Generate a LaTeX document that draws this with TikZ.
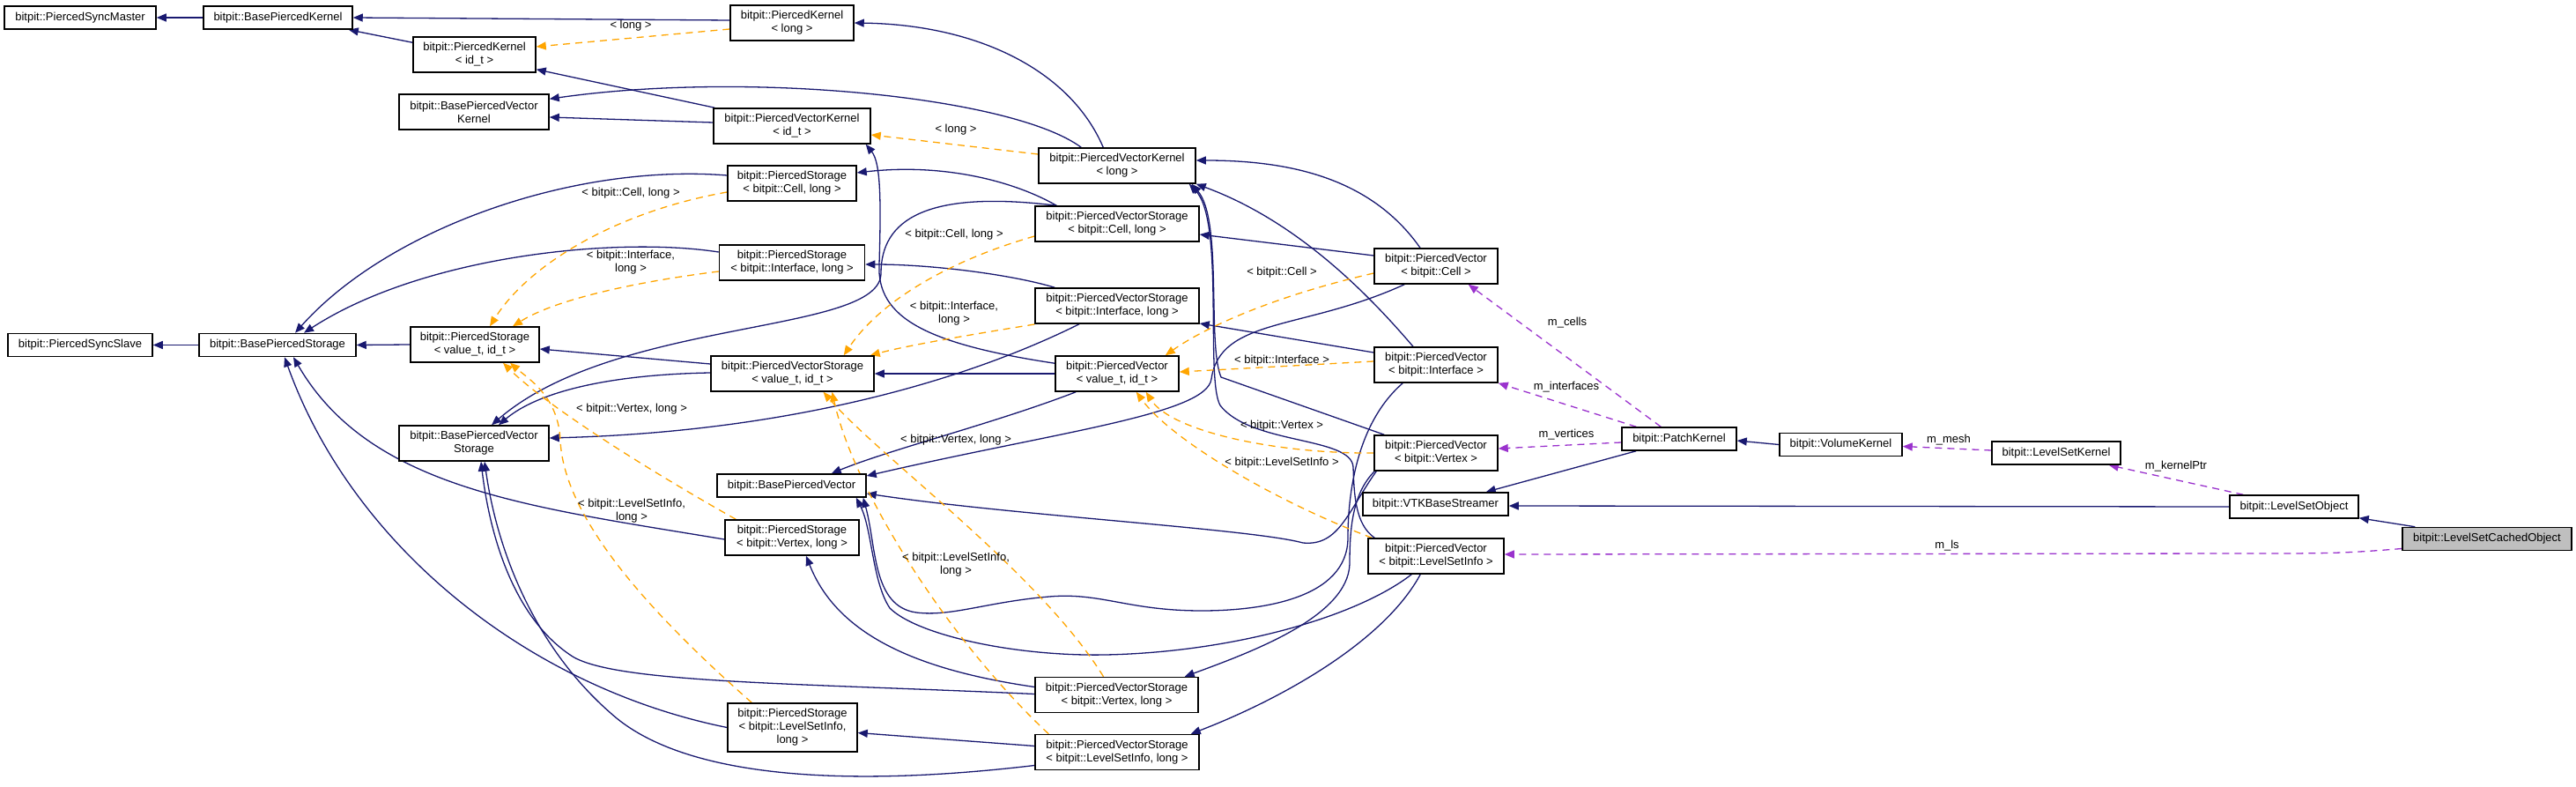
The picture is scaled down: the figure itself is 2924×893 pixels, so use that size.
\documentclass[tikz,border=0pt]{standalone}
\usepackage{fontspec}
\setmainfont{Liberation Sans}
\usetikzlibrary{arrows.meta,backgrounds,calc}
\definecolor{inhblue}{HTML}{191970}
\definecolor{tplorange}{HTML}{FFA500}
\definecolor{usepurple}{HTML}{9A32CD}
\definecolor{focusgray}{HTML}{BFBFBF}
\tikzset{
  cls/.style={draw=black, line width=0.75pt, fill=white, inner sep=1pt, align=center,
    minimum height=20pt, font=\fontsize{6.5}{7.5}\selectfont},
  lbl/.style={inner sep=0pt, align=center, font=\fontsize{6.5}{7.5}\selectfont},
  inh/.style={draw=inhblue, line width=0.65pt, -{Triangle[length=5.5pt,width=4.5pt]}},
  tpl/.style={draw=tplorange, line width=0.65pt, dash pattern=on 4pt off 3pt,
    -{Triangle[length=5.5pt,width=4.5pt]}},
  use/.style={draw=usepurple, line width=0.65pt, dash pattern=on 4pt off 3pt,
    -{Triangle[length=5.5pt,width=4.5pt]}}
}
\begin{document}
\begin{tikzpicture}[x=0.5pt, y=-0.5pt]
\useasboundingbox (0,0) rectangle (2924,893);
% kernels
\node[cls, minimum width=86pt, minimum height=13pt] (syncmaster) at (91,20) {bitpit::PiercedSyncMaster};
\node[cls, minimum width=84.5pt, minimum height=13pt] (bkernel) at (315.5,20) {bitpit::BasePiercedKernel};
\node[cls, minimum width=70pt] (pklong) at (899,26) {bitpit::PiercedKernel\\< long >};
\node[cls, minimum width=69.5pt] (pkid) at (538.5,62) {bitpit::PiercedKernel\\< id\_t >};
\node[cls, minimum width=85pt] (bvkernel) at (538,127) {bitpit::BasePiercedVector\\Kernel};
\node[cls, minimum width=89pt] (pvkid) at (899,143) {bitpit::PiercedVectorKernel\\< id\_t >};
\node[cls, minimum width=89pt] (pvklong) at (1268,188) {bitpit::PiercedVectorKernel\\< long >};
% storages
\node[cls, minimum width=82pt, minimum height=13pt] (syncslave) at (91,391.5) {bitpit::PiercedSyncSlave};
\node[cls, minimum width=89pt, minimum height=13pt] (bstorage) at (315,391.5) {bitpit::BasePiercedStorage};
\node[cls, minimum width=73pt] (psval) at (539,391) {bitpit::PiercedStorage\\< value\_t, id\_t >};
\node[cls, minimum width=85pt] (bpvs) at (538,503) {bitpit::BasePiercedVector\\Storage};
\node[cls, minimum width=73pt] (pscell) at (899,208) {bitpit::PiercedStorage\\< bitpit::Cell, long >};
\node[cls, minimum width=82.5pt] (psiface) at (899,298) {bitpit::PiercedStorage\\< bitpit::Interface, long >};
\node[cls, minimum width=92.5pt] (pvsval) at (899.5,424) {bitpit::PiercedVectorStorage\\< value\_t, id\_t >};
\node[cls, minimum width=84.5pt, minimum height=13pt] (bpv) at (898.5,551) {bitpit::BasePiercedVector};
\node[cls, minimum width=76pt] (psvertex) at (899,610) {bitpit::PiercedStorage\\< bitpit::Vertex, long >};
\node[cls, minimum width=73.5pt, minimum height=27.5pt] (pslsi) at (899.5,825.5) {bitpit::PiercedStorage\\< bitpit::LevelSetInfo,\\long >};
\node[cls, minimum width=93pt] (pvscell) at (1268,254) {bitpit::PiercedVectorStorage\\< bitpit::Cell, long >};
\node[cls, minimum width=93pt] (pvsiface) at (1268,347) {bitpit::PiercedVectorStorage\\< bitpit::Interface, long >};
\node[cls, minimum width=70pt] (pvval) at (1268,424) {bitpit::PiercedVector\\< value\_t, id\_t >};
\node[cls, minimum width=92.5pt] (pvsvertex) at (1267.5,788.5) {bitpit::PiercedVectorStorage\\< bitpit::Vertex, long >};
\node[cls, minimum width=93pt] (pvslsi) at (1268,853.5) {bitpit::PiercedVectorStorage\\< bitpit::LevelSetInfo, long >};
% vectors
\node[cls, minimum width=70pt] (pvcell) at (1630,302) {bitpit::PiercedVector\\< bitpit::Cell >};
\node[cls, minimum width=70pt] (pviface) at (1630,414) {bitpit::PiercedVector\\< bitpit::Interface >};
\node[cls, minimum width=70pt] (pvvertex) at (1630,514) {bitpit::PiercedVector\\< bitpit::Vertex >};
\node[cls, minimum width=77pt] (pvlsi) at (1630,631) {bitpit::PiercedVector\\< bitpit::LevelSetInfo >};
% patch and levelset
\node[cls, minimum width=65pt, minimum height=13pt] (patch) at (1906,498) {bitpit::PatchKernel};
\node[cls, minimum width=82.5pt, minimum height=13pt] (vtk) at (1629.5,572) {bitpit::VTKBaseStreamer};
\node[cls, minimum width=69.5pt, minimum height=13pt] (volume) at (2089.5,504.5) {bitpit::VolumeKernel};
\node[cls, minimum width=73pt, minimum height=13pt] (lskernel) at (2334,514) {bitpit::LevelSetKernel};
\node[cls, minimum width=73pt, minimum height=13pt] (lsobject) at (2604,575) {bitpit::LevelSetObject};
\node[cls, fill=focusgray, minimum width=96pt, minimum height=13pt] (lscached) at (2823,611.5) {bitpit::LevelSetCachedObject};

\begin{scope}[on background layer]
% inheritance
\draw[inh] (bkernel.west) -- (syncmaster.east);
\draw[inh] ($(pklong.west)+(0,-3)$) -- (bkernel.east);
\draw[inh] ($(pkid.north west)+(0,7)$) -- ($(bkernel.south east)+(-5,0)$);
\draw[inh] ($(pvkid.north west)+(2,0)$) -- ($(pkid.south east)+(0,-4)$);
\draw[inh] ($(pvkid.west)+(0,-4)$) -- ($(bvkernel.east)+(0,6)$);
\draw[inh] ($(pvklong.north west)+(49,0)$) .. controls (1150,110) and (850,80) .. ($(bvkernel.north east)+(0,6)$);
\draw[inh] ($(pvklong.north west)+(74,0)$) .. controls (1215,80) and (1110,28) .. (pklong.east);
\draw[inh] (bstorage.west) -- (syncslave.east);
\draw[inh] (psval.west) -- (bstorage.east);
\draw[inh] ($(pscell.west)+(0,-9)$) .. controls (650,185) and (440,260) .. ($(bstorage.north)+(20,0)$);
\draw[inh] ($(psiface.west)+(0,-12)$) .. controls (700,268) and (480,290) .. ($(bstorage.north)+(30,0)$);
\draw[inh] ($(psvertex.west)+(0,2)$) .. controls (600,575) and (420,555) .. ($(bstorage.south)+(18,0)$);
\draw[inh] (pslsi.west) .. controls (600,780) and (400,620) .. ($(bstorage.south)+(8,0)$);
\draw[inh] ($(pvsval.west)+(0,-11)$) -- ($(psval.east)+(0,5)$);
\draw[inh] ($(pvsval.west)+(0,-1)$) .. controls (690,425) and (610,445) .. ($(bpvs.north)+(28,0)$);
\draw[inh] ($(pvscell.north west)+(25,0)$) .. controls (1150,205) and (1070,185) .. ($(pscell.east)+(0,-12)$);
\draw[inh] ($(pvscell.north west)+(25,0)$) .. controls (1050,215) and (1000,250) .. (1000,310)
  .. controls (1000,380) and (700,360) .. ($(bpvs.north)+(20,0)$);
\draw[inh] ($(pvsiface.north west)+(23,0)$) .. controls (1150,312) and (1060,300) .. ($(psiface.east)+(0,2)$);
\draw[inh] ($(pvsiface.south)+(-43,0)$) .. controls (1100,430) and (900,490) .. ($(bpvs.east)+(0,-6)$);
\draw[inh] ($(pvsvertex.west)+(0,-9)$) .. controls (1040,760) and (950,720) .. ($(psvertex.south)+(16,0)$);
\draw[inh] ($(pvsvertex.west)+(0,-1)$) .. controls (900,775) and (700,775) .. (650,745)
  .. controls (580,700) and (555,600) .. ($(bpvs.south)+(8,0)$);
\draw[inh] ($(pvslsi.west)+(0,-7)$) -- ($(pslsi.east)+(0,6)$);
\draw[inh] ($(pvslsi.west)+(0,15)$) .. controls (950,895) and (780,880) .. (700,815)
  .. controls (610,740) and (565,630) .. ($(bpvs.south)+(12,0)$);
\draw[inh] ($(pvval.south west)+(24,0)$) .. controls (1130,480) and (1010,510) .. ($(bpv.north east)+(-40,0)$);
\draw[inh] ($(pvval.north west)+(0,9)$) .. controls (1050,390) and (995,360) .. (998,300)
  .. controls (1000,230) and (1000,185) .. ($(pvkid.south east)+(-6,0)$);
\draw[inh] (pvval.west) -- (pvsval.east);
% cells
\draw[inh] ($(pvcell.north)+(-18,0)$) .. controls (1555,200) and (1460,182) .. ($(pvklong.east)+(0,-6)$);
\draw[inh] ($(pvcell.west)+(0,-12)$) -- ($(pvscell.east)+(0,12)$);
\draw[inh] ($(pvcell.south west)+(35,0)$) .. controls (1480,375) and (1385,360) .. (1375,430)
  .. controls (1370,470) and (1200,490) .. ($(bpv.east)+(0,-11)$);
% interfaces
\draw[inh] ($(pviface.north)+(-26,0)$) .. controls (1550,330) and (1470,250) .. (pvklong.south east);
\draw[inh] ($(pviface.west)+(0,-14)$) -- ($(pvsiface.east)+(0,20)$);
\draw[inh] ($(pviface.south west)+(33,0)$) .. controls (1540,480) and (1530,560) .. (1530,610)
  .. controls (1530,680) and (1430,693) .. (1364,693) .. controls (1280,693) and (1250,672) .. (1191,677)
  .. controls (1120,683) and (1080,700) .. (1040,695) .. controls (990,688) and (995,620) .. ($(bpv.south east)+(-4,0)$);
% vertices
\draw[inh] ($(pvvertex.north west)+(12,0)$) -- (1386,428) .. controls (1370,390) and (1388,250) .. ($(pvklong.south east)+(-5,0)$);
\draw[inh] ($(pvvertex.south west)+(1,0)$) .. controls (1535,560) and (1532,600) .. (1532,640)
  .. controls (1530,700) and (1420,740) .. ($(pvsvertex.north east)+(-16,0)$);
\draw[inh] ($(pvvertex.south west)+(3,0)$) .. controls (1530,580) and (1520,620) .. (1479,616)
  .. controls (1420,600) and (1150,585) .. ($(bpv.east)+(0,9)$);
% level set info
\draw[inh] ($(pvlsi.north west)+(8,0)$) .. controls (1538,595) and (1537,560) .. (1536,530)
  .. controls (1534,495) and (1420,505) .. (1385,460) .. controls (1368,430) and (1390,250) .. ($(pvklong.south east)+(-8,0)$);
\draw[inh] ($(pvlsi.south west)+(60,0)$) .. controls (1570,730) and (1450,795) .. ($(pvslsi.north east)+(-10,0)$);
\draw[inh] ($(pvlsi.south west)+(50,0)$) .. controls (1540,700) and (1400,740) .. (1255,743)
  .. controls (1150,745) and (1040,720) .. (1010,690) .. controls (990,660) and (990,600) .. ($(bpv.south east)+(-12,0)$);
% streamers
\draw[inh] ($(patch.south west)+(17,0)$) -- ($(vtk.north east)+(-26,0)$);
\draw[inh] (volume.west) -- ($(patch.east)+(0,2)$);
\draw[inh] (lsobject.west) -- ($(vtk.east)+(0,2)$);
\draw[inh] ($(lscached.north west)+(15,0)$) -- ($(lsobject.south east)+(0,-1)$);

% template instances
\draw[tpl] ($(pklong.west)+(0,7)$) -- ($(pkid.east)+(0,-9)$);
\draw[tpl] ($(pvklong.west)+(0,-13)$) -- ($(pvkid.east)+(0,10)$);
\draw[tpl] ($(pscell.west)+(0,10)$) .. controls (700,240) and (600,300) .. ($(psval.north)+(17,0)$);
\draw[tpl] ($(psiface.west)+(0,10)$) .. controls (720,320) and (630,340) .. ($(psval.north)+(43,0)$);
\draw[tpl] ($(psvertex.north west)+(13,0)$) .. controls (730,530) and (620,460) .. ($(psval.south)+(32,0)$);
\draw[tpl] ($(pslsi.north west)+(28,0)$) .. controls (720,680) and (640,580) .. (636,500)
  .. controls (634,450) and (600,430) .. ($(psval.south)+(40,0)$);
\draw[tpl] ($(pvscell.west)+(0,14)$) .. controls (1080,295) and (1000,340) .. ($(pvsval.north east)+(-35,0)$);
\draw[tpl] ($(pvsiface.west)+(0,21)$) .. controls (1100,380) and (1030,392) .. ($(pvsval.north east)+(-5,0)$);
\draw[tpl] ($(pvsvertex.north)+(-15,0)$) .. controls (1180,650) and (1000,520) .. ($(pvsval.south)+(35,0)$);
\draw[tpl] ($(pvslsi.north west)+(16,0)$) .. controls (1080,730) and (970,560) .. ($(pvsval.south)+(45,0)$);
\draw[tpl] ($(pvcell.west)+(0,8)$) .. controls (1450,335) and (1370,370) .. ($(pvval.north east)+(-16,0)$);
\draw[tpl] ($(pviface.west)+(0,-4)$) -- ($(pvval.east)+(0,-2)$);
\draw[tpl] (pvvertex.west) .. controls (1450,515) and (1330,490) .. ($(pvval.south east)+(-38,0)$);
\draw[tpl] ($(pvlsi.north west)+(5,0)$) .. controls (1450,570) and (1330,500) .. ($(pvval.south east)+(-49,0)$);

% members
\draw[use] ($(patch.north west)+(45,0)$) -- ($(pvcell.south east)+(-34,0)$);
\draw[use] ($(patch.north west)+(17,0)$) -- (pviface.south east);
\draw[use] ($(patch.west)+(0,4)$) -- ($(pvvertex.east)+(0,-5)$);
\draw[use] ($(lskernel.west)+(0,-3)$) -- ($(volume.east)+(0,2)$);
\draw[use] ($(lsobject.north west)+(16,0)$) -- ($(lskernel.south east)+(-14,0)$);
\draw[use] ($(lscached.west)+(0,11)$) .. controls (2660,628) and (2640,628) .. (2560,628) -- ($(pvlsi.east)+(0,-2)$);
\end{scope}

% edge labels
\node[lbl] (tlong1) at (716,29) {< long >};
\node[lbl] (tlong2) at (1085,147) {< long >};
\node[lbl] (tcell1) at (716,219) {< bitpit::Cell, long >};
\node[lbl] (tiface1) at (716,298) {< bitpit::Interface,\\long >};
\node[lbl] (tvert1) at (717,464) {< bitpit::Vertex, long >};
\node[lbl] (tlsi1) at (717,580) {< bitpit::LevelSetInfo,\\long >};
\node[lbl] (tcell2) at (1083,266) {< bitpit::Cell, long >};
\node[lbl] (tiface2) at (1083,356) {< bitpit::Interface,\\long >};
\node[lbl] (tvert2) at (1085,499) {< bitpit::Vertex, long >};
\node[lbl] (tlsi2) at (1085,641) {< bitpit::LevelSetInfo,\\long >};
\node[lbl] (tcell3) at (1455,309) {< bitpit::Cell >};
\node[lbl] (tiface3) at (1455,409) {< bitpit::Interface >};
\node[lbl] (tvert3) at (1455,483) {< bitpit::Vertex >};
\node[lbl] (tlsi3) at (1455,525) {< bitpit::LevelSetInfo >};
\node[lbl] (ucells) at (1779,366) {m\_cells};
\node[lbl] (uifaces) at (1778,439) {m\_interfaces};
\node[lbl] (uverts) at (1778,493) {m\_vertices};
\node[lbl] (umesh) at (2212,499) {m\_mesh};
\node[lbl] (ukernel) at (2470,529) {m\_kernelPtr};
\node[lbl] (uls) at (2210,619) {m\_ls};
\end{tikzpicture}
\end{document}
